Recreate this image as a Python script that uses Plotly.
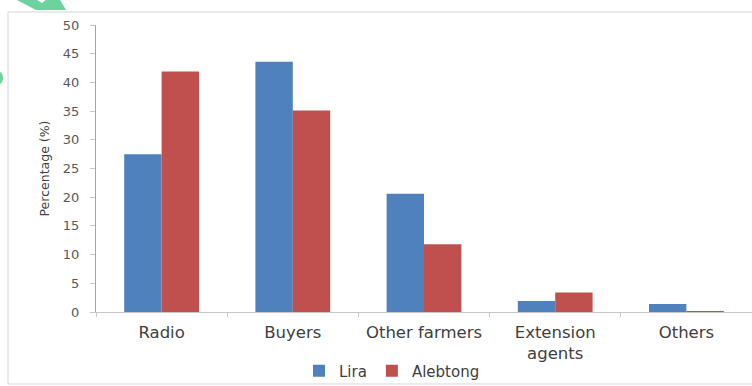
import plotly.graph_objects as go

# Sources of information, share of respondents per district
categories = ["Radio", "Buyers", "Other farmers", "Extension<br>agents", "Others"]
lira = [27.5, 43.6, 20.6, 1.9, 1.4]
alebtong = [41.9, 35.1, 11.8, 3.4, 0.1]
y_ticks = [0, 5, 10, 15, 20, 25, 30, 35, 40, 45, 50]

W, H = 752, 386
L, R, T, B = 96, 0, 25, 74
pw, ph = W - L - R, H - T - B


def px(x):
    return (x - L) / pw


def py(y):
    return (H - B - y) / ph


fig = go.Figure()
fig.add_trace(go.Bar(name="Lira", x=categories, y=lira,
                     marker=dict(color="#4F81BD", line=dict(width=0))))
fig.add_trace(go.Bar(name="Alebtong", x=categories, y=alebtong,
                     marker=dict(color="#C0504D", line=dict(width=0))))

shapes = [
    # outer chart frame
    dict(type="rect", xref="paper", yref="paper",
         x0=px(8), x1=px(770), y0=py(384), y1=py(12),
         line=dict(color="#d6d6d6", width=1), fillcolor="rgba(0,0,0,0)", layer="below"),
    # green corner mark
    dict(type="path", xref="paper", yref="paper",
         path=(f"M {px(13)},{py(-2)} L {px(36)},{py(10)} L {px(66)},{py(10)} "
               f"L {px(59)},{py(-2)} L {px(48)},{py(-2)} L {px(42)},{py(3)} "
               f"L {px(34)},{py(-2)} Z"),
         line=dict(width=0), fillcolor="#6dd39e"),
    dict(type="circle", xref="paper", yref="paper",
         x0=px(-4), x1=px(3), y0=py(84), y1=py(72),
         line=dict(width=0), fillcolor="#6dd39e"),
]

fig.update_layout(
    width=W, height=H,
    margin=dict(l=L, r=R, t=T, b=B, autoexpand=False),
    paper_bgcolor="white", plot_bgcolor="white",
    barmode="group", bargap=0.43, bargroupgap=0,
    font=dict(family="DejaVu Sans", color="#404040"),
    showlegend=True,
    legend=dict(orientation="h", x=px(392), xanchor="center",
                y=py(371), yanchor="middle",
                bgcolor="rgba(0,0,0,0)",
                font=dict(size=15, color="#404040"),
                itemwidth=30, tracegroupgap=0),
    shapes=shapes,
    xaxis=dict(
        automargin=False,
        showline=True, linecolor="#c8c8c8", linewidth=1,
        ticks="outside", tickson="boundaries", ticklen=4, tickcolor="#c8c8c8",
        tickfont=dict(size=16.5, color="#404040", family="DejaVu Sans"),
        ticklabelstandoff=5,
        showgrid=False, zeroline=False,
    ),
    yaxis=dict(
        automargin=False,
        range=[0, 50], tickvals=y_ticks,
        showline=True, linecolor="#a6a6a6", linewidth=1,
        ticks="outside", ticklen=5, tickcolor="#c8c8c8",
        tickfont=dict(size=13, color="#595959", family="DejaVu Sans"),
        ticklabelstandoff=8,
        showgrid=False, zeroline=False,
        title=dict(text="Percentage (%)", standoff=10,
                   font=dict(size=12.5, color="#404040", family="DejaVu Sans")),
    ),
)

fig.write_html("out.html")
